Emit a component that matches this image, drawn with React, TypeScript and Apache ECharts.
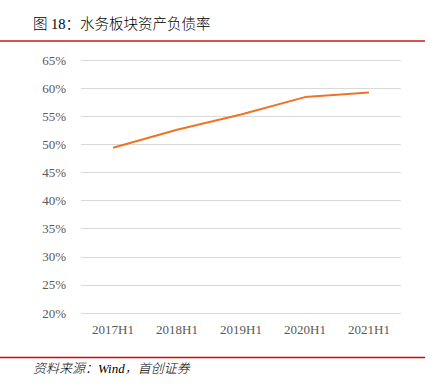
import React, { useEffect, useRef } from "react";
import * as echarts from "echarts";

const categories = ["2017H1", "2018H1", "2019H1", "2020H1", "2021H1"];
const debtRatio = [49.4, 52.6, 55.3, 58.4, 59.2];
const titleText = "图 18：水务板块资产负债率";
const sourceText = "资料来源：Wind，首创证券";

export default function App() {
  const ref = useRef<HTMLDivElement>(null);
  useEffect(() => {
    document.body.style.margin = "0";
    const chart = echarts.init(ref.current!, null, { renderer: "svg" });
    chart.setOption({
      animation: false,
      backgroundColor: "#ffffff",
      grid: { left: 81, right: 36, top: 60, bottom: 75 },
      xAxis: {
        type: "category",
        data: categories,
        boundaryGap: true,
        axisLine: { show: false },
        axisTick: { show: false },
        axisLabel: {
          color: "#595959",
          fontFamily: "Liberation Serif, serif",
          fontSize: 13,
          margin: 10,
        },
      },
      yAxis: {
        type: "value",
        min: 20,
        max: 65,
        interval: 5,
        axisLine: { show: false },
        axisTick: { show: false },
        axisLabel: {
          formatter: "{value}%",
          color: "#595959",
          fontFamily: "Liberation Serif, serif",
          fontSize: 13,
          margin: 15,
        },
        splitLine: { lineStyle: { color: "#d9d9d9", width: 1 } },
      },
      series: [
        {
          type: "line",
          data: debtRatio,
          symbol: "none",
          lineStyle: { color: "#ee7423", width: 2 },
        },
      ],
      graphic: [
        {
          type: "text",
          left: 33,
          top: 17,
          style: {
            text: titleText,
            fill: "#000000",
            font: "300 14.5px 'Liberation Serif', 'Noto Sans CJK SC', serif",
          },
        },
        {
          type: "line",
          shape: { x1: 0, y1: 41, x2: 425, y2: 41 },
          style: { stroke: "#d9534f", lineWidth: 2 },
        },
        {
          type: "line",
          shape: { x1: 0, y1: 357.5, x2: 425, y2: 357.5 },
          style: { stroke: "#e00000", lineWidth: 1.5 },
        },
        {
          type: "text",
          left: 33,
          top: 362,
          style: {
            text: sourceText,
            fill: "#000000",
            font: "italic 300 13px 'Liberation Serif', 'Noto Sans CJK SC', serif",
          },
        },
      ],
    });
    return () => chart.dispose();
  }, []);
  return <div ref={ref} style={{ width: 437, height: 388 }} />;
}
